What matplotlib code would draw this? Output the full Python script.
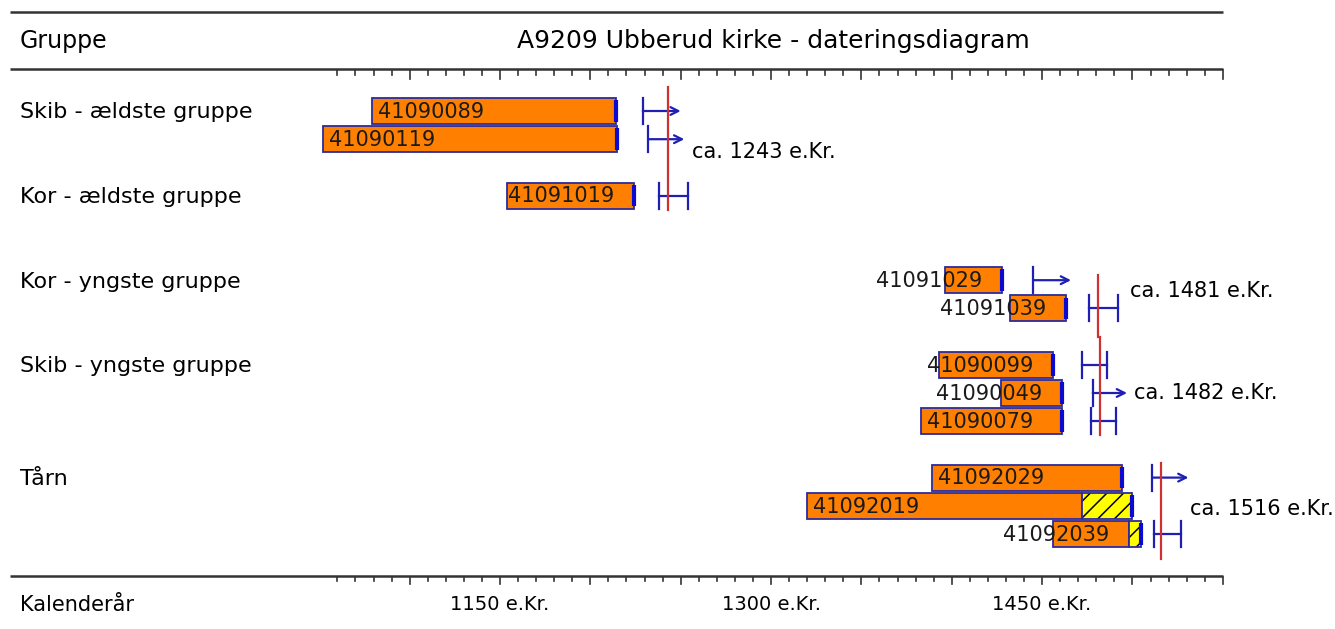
import numpy as np
import matplotlib
matplotlib.use('Agg')
import matplotlib.pyplot as plt
from matplotlib.patches import Rectangle
import matplotlib.transforms as mtransforms

# groups (label shown on the row of the first sample)
groups = ['Skib - ældste gruppe', 'Kor - ældste gruppe', 'Kor - yngste gruppe',
          'Skib - yngste gruppe', 'Tårn']
group_rows = [0, 3, 6, 9, 13]

# samples
samples = ['41090089', '41090119', '41091019', '41091029', '41091039',
           '41090099', '41090049', '41090079', '41092029', '41092019', '41092039']
rows = [0, 1, 3, 6, 7, 9, 10, 11, 13, 14, 15]
first_year = [1079, 1052, 1154, 1396, 1432, 1393, 1427, 1383, 1389, 1320, 1456]
last_year = [1214, 1215, 1224, 1428, 1463, 1456, 1461, 1461, 1494, 1472, 1498]
sapwood_end = [None, None, None, None, None, None, None, None, None, 1500, 1505]
fell_from = [1229, 1232, 1238, 1445, 1476, 1472, 1478, 1477, 1511, None, 1512]
fell_to = [1250, 1252, 1254, 1466, 1492, 1486, 1497, 1491, 1531, None, 1527]
open_end = [True, True, False, True, False, False, True, False, True, False, False]

# datings (red lines)
datings = [1243, 1481, 1482, 1516]
dating_span = [(-0.85, 3.5), (5.8, 8.0), (8.0, 11.5), (12.5, 15.9)]
dating_text_row = [1.45, 6.4, 10.0, 14.1]
dating_text_dx = [13, 17.5, 19, 16]

tick_years = np.arange(1060, 1551, 10)
label_years = [1150, 1300, 1450]

# ------------------------------------------------------------------
W, H = 1335, 629
PX_PER_YEAR = 1.807
ROW_PX = 28.2
ROW0_PX = 111

fig = plt.figure(figsize=(W / 100, H / 100), dpi=100)
ax = fig.add_axes([0, 0, 1, 1])
ax.set_xlim(1150 - 500 / PX_PER_YEAR, 1150 + (W - 500) / PX_PER_YEAR)
ax.set_ylim((H - ROW0_PX) / ROW_PX, -ROW0_PX / ROW_PX)
ax.axis('off')


def xpx(p):
    return 1150 + (p - 500) / PX_PER_YEAR


def ypx(p):
    return (p - ROW0_PX) / ROW_PX


FONT = 'DejaVu Sans'
FS = 15
frame_col = '#333333'
bar_col = '#ff8000'
edge_col = '#2b2b9c'
blue = '#1f1fb4'
red = '#d03030'
plt.rcParams['hatch.linewidth'] = 1.1

# frame lines
x0, x1 = xpx(10), 1550
for yy in [12, 69, 576]:
    ax.plot([x0, x1], [ypx(yy), ypx(yy)], color=frame_col, lw=1.8, solid_capstyle='butt')

# ticks on top and bottom axis lines
for t in tick_years:
    big = (t % 50 == 0) or t == 1550
    ax.plot([t, t], [ypx(70), ypx(79 if big else 75)], color=frame_col, lw=1.2)
    ax.plot([t, t], [ypx(577), ypx(584 if big else 581)], color=frame_col, lw=1.2)

for t in label_years:
    ax.text(t, ypx(605), f'{t} e.Kr.', ha='center', va='center', fontsize=FS - 1, family=FONT)

fig.text(20 / W, 1 - 41 / H, 'Gruppe', ha='left', va='center', fontsize=FS + 2, family=FONT)
fig.text(773 / W, 1 - 41 / H, 'A9209 Ubberud kirke - dateringsdiagram', ha='center',
         va='center', fontsize=FS + 3, family=FONT)
fig.text(20 / W, 1 - 605 / H, 'Kalenderår', ha='left', va='center', fontsize=FS, family=FONT)

trans = mtransforms.blended_transform_factory(fig.transFigure, ax.transData)
for g, r in zip(groups, group_rows):
    ax.text(20 / W, r + 0.05, g, transform=trans, ha='left', va='center',
            fontsize=FS + 1, family=FONT)

# bars
bh = 0.92
for i, s in enumerate(samples):
    y = rows[i]
    a, b = first_year[i], last_year[i]
    ax.add_patch(Rectangle((a, y - bh / 2), b - a, bh, facecolor=bar_col,
                           edgecolor=edge_col, lw=1.3, zorder=2))
    end = b
    if sapwood_end[i] is not None:
        sw = sapwood_end[i] - b
        ax.add_patch(Rectangle((b, y - bh / 2), sw, bh, facecolor='#ffff00',
                               edgecolor='black', lw=0, hatch='//', zorder=2))
        ax.add_patch(Rectangle((b, y - bh / 2), sw, bh, facecolor='none',
                               edgecolor=edge_col, lw=1.3, zorder=2.5))
        end = sapwood_end[i]
    ax.plot([end, end], [y - bh / 2 + 0.08, y + bh / 2 - 0.08], color='#0a0ad0', lw=3,
            solid_capstyle='butt', zorder=3)
    # label: inside from the start, or pushed left when the bar is short
    lx = min(a + 6 / PX_PER_YEAR, b - 126 / PX_PER_YEAR)
    ax.text(lx, y + 0.03, s, ha='left', va='center', fontsize=FS, family=FONT,
            color='#1a1a1a', zorder=4)

    # felling interval
    if fell_from[i] is not None:
        f0, f1 = fell_from[i], fell_to[i]
        ax.plot([f0, f0], [y - bh / 2, y + bh / 2], color=blue, lw=1.6, zorder=3)
        if open_end[i]:
            ax.annotate('', xy=(f1, y), xytext=(f0, y),
                        arrowprops=dict(arrowstyle='->', color=blue, lw=1.6,
                                        shrinkA=0, shrinkB=0, mutation_scale=14))
        else:
            ax.plot([f0, f1], [y, y], color=blue, lw=1.6, zorder=3)
            ax.plot([f1, f1], [y - bh / 2, y + bh / 2], color=blue, lw=1.6, zorder=3)

# dating lines
for d, (ya, yb), ty, dx in zip(datings, dating_span, dating_text_row, dating_text_dx):
    ax.plot([d, d], [ya, yb], color=red, lw=1.6, zorder=4)
    ax.text(d + dx, ty, f'ca. {d} e.Kr.', ha='left', va='center', fontsize=FS, family=FONT)

fig.savefig('out.png', dpi=100)
